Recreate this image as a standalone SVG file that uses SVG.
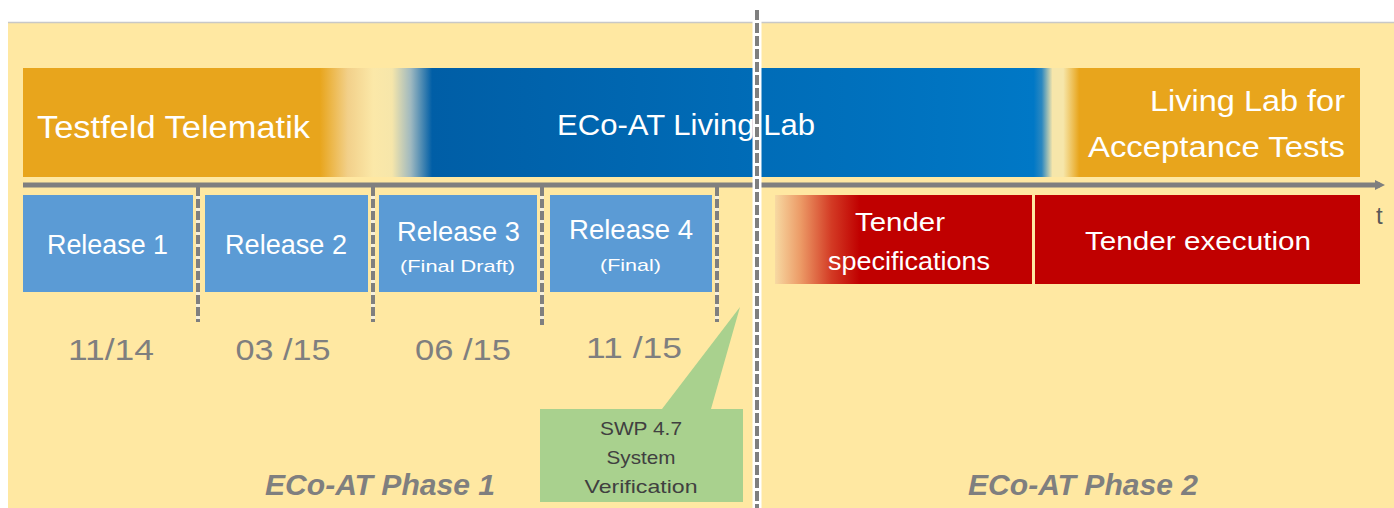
<svg xmlns="http://www.w3.org/2000/svg" width="1394" height="508" viewBox="0 0 1394 508">
<defs>
<linearGradient id="topbar" gradientUnits="userSpaceOnUse" x1="23" y1="0" x2="1360" y2="0">
<stop offset="0" stop-color="#E8A51C"/>
<stop offset="0.222" stop-color="#E8A51C"/>
<stop offset="0.243" stop-color="#F2D08A"/>
<stop offset="0.262" stop-color="#FBE8A8"/>
<stop offset="0.276" stop-color="#F6E6AA"/>
<stop offset="0.290" stop-color="#9FB9C0"/>
<stop offset="0.306" stop-color="#005EA6"/>
<stop offset="0.756" stop-color="#0078C6"/>
<stop offset="0.762" stop-color="#2C88C0"/>
<stop offset="0.770" stop-color="#F6E6AA"/>
<stop offset="0.778" stop-color="#F6E6AA"/>
<stop offset="0.790" stop-color="#E8A51C"/>
<stop offset="1" stop-color="#E8A51C"/>
</linearGradient>
<linearGradient id="tender" gradientUnits="userSpaceOnUse" x1="775" y1="0" x2="1032" y2="0">
<stop offset="0" stop-color="#F7D9A2"/>
<stop offset="0.1" stop-color="#EC9A66"/>
<stop offset="0.22" stop-color="#D33A24"/>
<stop offset="0.33" stop-color="#C00000"/>
<stop offset="1" stop-color="#C00000"/>
</linearGradient>
<marker id="arr" markerWidth="10" markerHeight="10" refX="5" refY="5" orient="auto" markerUnits="userSpaceOnUse">
<path d="M0,0 L10,5 L0,10 Z" fill="#7F7F7F"/>
</marker>
</defs>
<style>
.wt{font-family:"Liberation Sans",Arial,sans-serif;fill:#FFFFFF}
.rel{fill:#5B9BD5}
.red{fill:#C00000}
.date{font-family:"Liberation Sans",Arial,sans-serif;fill:#7F7F7F;font-size:30px;text-anchor:middle}
.phase{font-family:"Liberation Sans",Arial,sans-serif;fill:#7F7F7F;font-size:29px;font-weight:bold;font-style:italic;text-anchor:middle}
.tick{stroke:#F4EEDC;stroke-width:4}
.tickd{stroke:#7F7F7F;stroke-width:4;stroke-dasharray:9 3}
.green{font-family:"Liberation Sans",Arial,sans-serif;fill:#404040;font-size:19px;text-anchor:middle}
</style>
<rect x="0" y="0" width="1394" height="508" fill="#FFFFFF"/>
<rect x="8" y="23" width="1386" height="485" fill="#FFE8A2"/>
<line x1="8" y1="22.5" x2="1394" y2="22.5" stroke="#C8C8C8" stroke-width="1.5"/>

<g id="top-bar">
<rect x="23" y="68" width="1337" height="109" fill="url(#topbar)"/>
</g>
<g id="testfeld">
<text class="wt" x="37" y="138" font-size="31" textLength="273" lengthAdjust="spacingAndGlyphs">Testfeld Telematik</text>
</g>
<g id="living-lab">
<text class="wt" x="557" y="135" font-size="30" textLength="258" lengthAdjust="spacingAndGlyphs">ECo-AT Living Lab</text>
</g>
<g id="acceptance">
<text class="wt" x="1150" y="111" font-size="30" textLength="195" lengthAdjust="spacingAndGlyphs">Living Lab for</text>
<text class="wt" x="1088" y="157" font-size="30" textLength="257" lengthAdjust="spacingAndGlyphs">Acceptance Tests</text>
</g>

<g id="connectors">
<line x1="23" y1="185" x2="1380" y2="185" stroke="#7F7F7F" stroke-width="5" marker-end="url(#arr)"/>
<line class="tick" x1="198" y1="187" x2="198" y2="322"/>
<line class="tickd" x1="198" y1="187" x2="198" y2="322"/>
<line class="tick" x1="373" y1="187" x2="373" y2="322"/>
<line class="tickd" x1="373" y1="187" x2="373" y2="322"/>
<line class="tick" x1="542" y1="187" x2="542" y2="325"/>
<line class="tickd" x1="542" y1="187" x2="542" y2="325"/>
<line class="tick" x1="717" y1="187" x2="717" y2="322"/>
<line class="tickd" x1="717" y1="187" x2="717" y2="322"/>
<line x1="757" y1="10" x2="757" y2="508" stroke="#FFFFFF" stroke-width="9"/>
<line x1="757" y1="10" x2="757" y2="508" stroke="#7F7F7F" stroke-width="4" stroke-dasharray="10 3"/>
</g>
<text x="1376" y="224" font-family="Liberation Sans, Arial, sans-serif" font-size="24" fill="#595959">t</text>

<g id="release1">
<rect class="rel" x="23" y="195" width="170" height="97"/>
<text class="wt" x="47" y="254" font-size="27" textLength="121" lengthAdjust="spacingAndGlyphs">Release 1</text>
</g>
<g id="release2">
<rect class="rel" x="205" y="195" width="163" height="97"/>
<text class="wt" x="225" y="254" font-size="27" textLength="122" lengthAdjust="spacingAndGlyphs">Release 2</text>
</g>
<g id="release3">
<rect class="rel" x="379" y="195" width="158" height="97"/>
<text class="wt" x="397" y="241" font-size="27" textLength="123" lengthAdjust="spacingAndGlyphs">Release 3</text>
<text class="wt" x="400" y="272" font-size="17" textLength="115" lengthAdjust="spacingAndGlyphs">(Final Draft)</text>
</g>
<g id="release4">
<rect class="rel" x="550" y="195" width="162" height="97"/>
<text class="wt" x="569" y="239" font-size="27" textLength="124" lengthAdjust="spacingAndGlyphs">Release 4</text>
<text class="wt" x="600" y="271" font-size="17" textLength="61" lengthAdjust="spacingAndGlyphs">(Final)</text>
</g>

<g id="dates">
<text class="date" x="111" y="360" textLength="86" lengthAdjust="spacingAndGlyphs">11/14</text>
<text class="date" x="283" y="360" textLength="95" lengthAdjust="spacingAndGlyphs">03 /15</text>
<text class="date" x="463" y="360" textLength="96" lengthAdjust="spacingAndGlyphs">06 /15</text>
<text class="date" x="634" y="358" textLength="96" lengthAdjust="spacingAndGlyphs">11 /15</text>
</g>

<g id="tender-spec">
<rect x="775" y="195" width="257" height="89" fill="url(#tender)"/>
<text class="wt" x="900" y="231" font-size="25" text-anchor="middle" textLength="90" lengthAdjust="spacingAndGlyphs">Tender</text>
<text class="wt" x="909" y="270" font-size="25" text-anchor="middle" textLength="162" lengthAdjust="spacingAndGlyphs">specifications</text>
</g>
<g id="tender-exec">
<rect class="red" x="1035" y="195" width="325" height="89"/>
<text class="wt" x="1085" y="250" font-size="25" textLength="226" lengthAdjust="spacingAndGlyphs">Tender execution</text>
</g>

<g id="swp">
<path d="M540,409 L662,409 L740,307 L711,409 L743,409 L743,502 L540,502 Z" fill="#A9D18E"/>
<text class="green" x="641" y="435" textLength="82" lengthAdjust="spacingAndGlyphs">SWP 4.7</text>
<text class="green" x="641" y="464" textLength="69" lengthAdjust="spacingAndGlyphs">System</text>
<text class="green" x="641" y="493" textLength="113" lengthAdjust="spacingAndGlyphs">Verification</text>
</g>

<g id="phase1">
<text class="phase" x="380" y="495" textLength="230" lengthAdjust="spacingAndGlyphs">ECo-AT Phase 1</text>
</g>
<g id="phase2">
<text class="phase" x="1083" y="495" textLength="230" lengthAdjust="spacingAndGlyphs">ECo-AT Phase 2</text>
</g>
</svg>
